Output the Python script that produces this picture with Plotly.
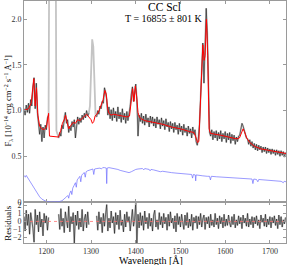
import plotly.graph_objects as go

# ---------------- data ----------------
WL_START = 1150.0
WL_STEP = 2.5

obs_flux = [
    1.02, 0.95, 1.06, 0.98, 1.08, 0.97, 1.12, 1.05, 1.25, 1.36, 1.02, 1.30, 0.98, 0.88, 0.74, 0.85,
    0.66, 0.82, 0.70, 0.84, 0.79, 0.92, 0.95,
    4.0, 4.0, 4.0, 4.0, 4.0, 4.0, 0.78, 0.74,
    0.70, 0.76, 0.72, 0.84, 0.80, 0.93, 0.98, 0.86, 0.90, 0.76, 0.83, 0.78, 0.88, 0.82, 0.90, 0.70,
    0.86, 0.93, 0.85, 0.92, 0.87, 0.95, 0.90, 0.97, 0.92, 1.00, 0.94, 0.97,
    1.05, 1.40, 1.78, 1.70, 1.25, 0.95,
    0.93, 1.00, 0.96, 1.05, 1.02, 1.10, 1.08, 1.25, 1.20, 1.12, 0.95, 1.04, 0.91, 1.01, 0.89, 1.03,
    0.92, 0.99, 0.88, 1.04, 0.91, 0.98, 0.87, 1.02, 0.90, 0.97, 0.86, 0.99, 0.89, 0.96, 1.05, 1.18,
    1.26, 1.10, 1.22, 1.29, 1.12, 0.72, 0.95, 0.88, 0.97, 0.86, 0.94, 0.84, 0.96, 0.87, 0.92, 0.82,
    0.94, 0.86, 0.93, 0.83, 0.91, 0.81, 0.93, 0.85, 0.90, 0.80, 0.92, 0.83, 0.89, 0.79, 0.91, 0.82,
    0.87, 0.77, 0.88, 0.80, 0.86, 0.76, 0.87, 0.79, 0.84, 0.74, 0.86, 0.77, 0.83, 0.73, 0.85, 0.76,
    0.81, 0.72, 0.83, 0.75, 0.80, 0.70, 0.82, 0.74, 0.79, 0.66, 0.62, 0.70, 0.85, 1.20, 1.62, 1.74,
    1.30, 1.70, 2.12, 1.85, 1.10, 0.76, 0.72, 0.79, 0.68, 0.77, 0.70, 0.78, 0.67, 0.76, 0.69, 0.78,
    0.66, 0.75, 0.69, 0.77, 0.65, 0.75, 0.68, 0.76, 0.64, 0.74, 0.67, 0.73, 0.63, 0.71, 0.66, 0.72,
    0.73, 0.81, 0.86, 0.83, 0.78, 0.75, 0.70, 0.69, 0.63, 0.68, 0.61, 0.66, 0.59, 0.64, 0.57, 0.63,
    0.56, 0.62, 0.57, 0.61, 0.54, 0.60, 0.55, 0.60, 0.53, 0.59, 0.54, 0.58, 0.52, 0.58, 0.53, 0.57,
    0.51, 0.57, 0.52, 0.56, 0.50, 0.56, 0.51, 0.55, 0.49, 0.54,
]

# wavelength intervals masked out of the fit (drawn grey only)
mask_ranges = [(1206.0, 1226.0), (1296.0, 1311.0)]

model_wl = [1150, 1160, 1166, 1170, 1172, 1175, 1178, 1181, 1185, 1190, 1195, 1200, 1203, 1205,
            1207, 1227, 1232, 1236, 1240, 1243, 1246, 1250, 1255, 1260, 1265, 1270, 1275, 1280,
            1285, 1290, 1295, 1300, 1303, 1306, 1309, 1313, 1318, 1323, 1327, 1331, 1334, 1337,
            1340, 1345, 1350, 1360, 1370, 1380, 1386, 1390, 1393, 1396, 1399, 1402, 1405, 1408,
            1412, 1420, 1440, 1460, 1480, 1500, 1520, 1530, 1535, 1538, 1541, 1544, 1547, 1550,
            1553, 1555, 1558, 1561, 1564, 1567, 1590, 1610, 1625, 1632, 1637, 1640, 1643, 1648,
            1655, 1665, 1680, 1700, 1720, 1736]
model_flux = [1.00, 1.02, 1.08, 1.30, 1.35, 1.05, 1.25, 0.95, 0.83, 0.80, 0.79, 0.82, 0.90, 0.97,
              0.72, 0.71, 0.78, 0.86, 0.90, 0.95, 0.88, 0.80, 0.84, 0.87, 0.86, 0.90, 0.89, 0.91,
              0.93, 0.96, 0.93, 0.90, 0.86, 0.88, 0.94, 0.96, 1.00, 1.06, 1.12, 1.22, 1.18, 1.02,
              0.97, 0.95, 0.96, 0.95, 0.94, 0.93, 0.94, 1.10, 1.24, 1.10, 1.27, 1.15, 0.98, 0.93,
              0.91, 0.89, 0.87, 0.85, 0.82, 0.80, 0.77, 0.76, 0.70, 0.65, 0.66, 1.00, 1.50, 1.72,
              1.55, 1.60, 2.00, 1.60, 0.80, 0.75, 0.73, 0.71, 0.69, 0.70, 0.76, 0.80, 0.77, 0.70,
              0.65, 0.61, 0.58, 0.56, 0.54, 0.53]

wd_wl = [1150, 1153, 1155, 1160, 1165, 1170, 1175, 1180, 1185, 1190, 1195, 1200, 1210, 1220, 1230,
         1235, 1240, 1245, 1248, 1250, 1252, 1255, 1257, 1259, 1262, 1265, 1267, 1269, 1272, 1275,
         1277, 1279, 1282, 1285, 1287, 1289, 1292, 1295, 1300, 1304, 1306, 1308, 1313, 1317, 1320,
         1323, 1326, 1330, 1334, 1335, 1336, 1340, 1345, 1350, 1355, 1360, 1365, 1370, 1375, 1380,
         1385, 1390, 1395, 1400, 1405, 1410, 1415, 1418, 1420, 1425, 1430, 1432, 1434, 1440, 1445,
         1450, 1455, 1460, 1470, 1480, 1490, 1500, 1510, 1520, 1525, 1527, 1529, 1533, 1534, 1535,
         1540, 1550, 1560, 1565, 1567, 1569, 1580, 1600, 1620, 1640, 1655, 1660, 1662, 1664, 1670,
         1673, 1675, 1690, 1710, 1725, 1730, 1732, 1736]
wd_flux = [0.29, 0.27, 0.29, 0.25, 0.21, 0.17, 0.13, 0.09, 0.055, 0.03, 0.012, 0.004, 0.0, 0.0, 0.004,
           0.012, 0.03, 0.055, 0.07, 0.04, 0.09, 0.12, 0.08, 0.15, 0.18, 0.21, 0.16, 0.24, 0.26, 0.28,
           0.22, 0.29, 0.31, 0.32, 0.27, 0.33, 0.34, 0.345, 0.35, 0.36, 0.30, 0.36, 0.365, 0.37, 0.37,
           0.36, 0.375, 0.375, 0.37, 0.20, 0.37, 0.375, 0.37, 0.37, 0.36, 0.355, 0.345, 0.34, 0.33, 0.325,
           0.32, 0.33, 0.345, 0.355, 0.36, 0.36, 0.365, 0.35, 0.365, 0.36, 0.355, 0.34, 0.355, 0.35, 0.345,
           0.34, 0.33, 0.335, 0.325, 0.32, 0.315, 0.31, 0.305, 0.30, 0.30, 0.26, 0.30, 0.295, 0.23, 0.295,
           0.29, 0.285, 0.28, 0.28, 0.24, 0.28, 0.275, 0.27, 0.265, 0.26, 0.25, 0.25, 0.20, 0.25, 0.245,
           0.22, 0.245, 0.24, 0.23, 0.225, 0.21, 0.225, 0.22]

residuals = [
    0.6, -1.2, 1.4, -0.5, 0.9, -1.6, 1.1, 0.2, -0.9, -2.6, 1.5, -0.4, 0.8, -1.3, 1.2, -0.7,
    0.3, -1.8, 1.0, -0.2, 0.7, -1.1, 0.5,
    None, None, None, None, None, None, None, None,
    0.9, -1.0, 1.6, -0.6, 0.4, -1.4, 1.2, 0.1, -0.8, 1.9, -1.3, 0.6, -0.3, 1.1, -2.7, 0.8,
    -0.5, 1.3, -1.0, 0.4, -0.7, 1.5, -1.2, 0.3, 0.9, -0.8, 1.2, -0.4,
    None, None, None, None, None, None,
    0.7, -1.1, 1.2, -0.3, 0.5, -1.4, 1.0, -0.6, 0.9, 2.1,
    -1.2, 0.4, -0.8, 1.3, -0.2, 0.6, -1.5, 1.1, -0.4, 0.8,
    -1.0, 1.4, -0.5, 0.2, -1.3, 0.9, -0.7, 1.2, -0.1, 0.6,
    -1.2, 0.8, 1.5, -0.6, 0.3, 2.4, -2.7, 0.9, -0.8, 1.1,
    -0.5, 0.7, -1.1, 1.3, -0.3, 0.5, -0.9, 1.0, -0.6, 0.4,
    -1.2, 0.8, 1.4, -0.7, 0.2, -1.0, 1.1, -0.4, 0.6, -0.8,
    1.0, -0.3, 0.5, -1.1, 0.9, -0.6, 1.2, -0.2, 0.4, -0.9,
    0.7, -1.3, 1.0, -0.4, 0.6, -0.7, 0.9, -0.1, -1.0, 0.8,
    -0.5, 1.1, -0.8, 0.3, -0.6, 0.9, -1.1, 0.5, -0.2, 0.7,
    -0.9, 0.6, -0.4, 1.0, -0.7, 0.3, 0.8, -1.0, 0.5, -0.3,
    0.6, -0.8, 0.9, -0.5, 0.2, -0.7, 1.0, -0.4, 0.4, -0.9,
    0.7, -0.3, 0.5, -0.8, 0.9, -0.6, 0.3, -0.5, 0.8, -0.2,
    -0.7, 0.6, -0.4, 0.9, -0.8, 0.2, -0.5, 0.7, -0.3, 0.5,
    -0.9, 0.8, -0.2, 0.4, -0.6, 1.0, -0.7, 0.3, -0.4, 0.6,
    -0.8, 0.5, -0.3, 0.7, -0.5, 0.2, -0.9, 0.8, -0.1, 0.4,
    -0.6, 0.9, -0.7, 0.3, -0.4, 0.6, -0.8, 0.5, -0.2, 0.7,
    -0.5, 0.3, -0.9, 0.8, -0.4, 0.6, -0.7, 0.2, -0.3, 0.5,
]

flux_ticks = [0, 0.5, 1.0, 1.5, 2.0]
flux_ticktext = ["0", "0.5", "1.0", "1.5", "2.0"]
resid_ticks = [-2, -1, 0, 1, 2]
wl_ticks = [1200, 1300, 1400, 1500, 1600, 1700]

star_name = "CC Scl"
temp_label = "T = 16855 ± 801 K"

# ---------------- figure ----------------
wl = [WL_START + WL_STEP * i for i in range(len(obs_flux))]
obs_black = [None if any(a <= w <= b for a, b in mask_ranges) else f for w, f in zip(wl, obs_flux)]

FONT = "Liberation Serif, Times New Roman, DejaVu Serif, serif"
AX = "#9a9a9a"

fig = go.Figure()
fig.add_trace(go.Scatter(x=wl, y=obs_flux, mode="lines", line=dict(color="#c4c4c4", width=1.8),
                         xaxis="x2", yaxis="y2", hoverinfo="skip"))
fig.add_trace(go.Scatter(x=wl, y=obs_black, mode="lines", line=dict(color="black", width=0.5),
                         xaxis="x2", yaxis="y2", connectgaps=False))
fig.add_trace(go.Scatter(x=model_wl, y=model_flux, mode="lines", line=dict(color="#ff0000", width=1.0),
                         xaxis="x2", yaxis="y2"))
fig.add_trace(go.Scatter(x=wd_wl, y=wd_flux, mode="lines", line=dict(color="#6f6fff", width=0.7),
                         xaxis="x2", yaxis="y2"))

fig.add_trace(go.Scatter(x=wl, y=residuals, mode="lines", line=dict(color="#c4c4c4", width=1.8),
                         xaxis="x", yaxis="y"))
fig.add_trace(go.Scatter(x=wl, y=residuals, mode="lines", line=dict(color="black", width=0.5),
                         xaxis="x", yaxis="y"))
fig.add_trace(go.Scatter(x=[1150, 1736], y=[0, 0], mode="lines",
                         line=dict(color="#ff7070", width=0.8, dash="dot"), xaxis="x", yaxis="y"))

axis_common = dict(showline=True, linecolor=AX, linewidth=1, mirror="ticks", ticks="inside",
                   ticklen=3, tickcolor=AX, showgrid=False, zeroline=False,
                   tickfont=dict(family=FONT, size=8, color="#333"))

fig.update_layout(
    width=287, height=265,
    margin=dict(l=24, r=1, t=1, b=22),
    paper_bgcolor="white", plot_bgcolor="white",
    showlegend=False,
    font=dict(family=FONT, color="black"),
    xaxis=dict(domain=[0, 1], range=[1150, 1736], anchor="y", tickvals=wl_ticks, **axis_common),
    yaxis=dict(domain=[0, 0.17], range=[-2.69, 2.44], anchor="x", tickvals=resid_ticks, **axis_common),
    xaxis2=dict(domain=[0, 1], range=[1150, 1736], anchor="y2", matches="x", tickvals=wl_ticks,
                showticklabels=False, **axis_common),
    yaxis2=dict(domain=[0.17, 1], range=[0, 2.2], anchor="x2", tickvals=flux_ticks,
                ticktext=flux_ticktext, **axis_common),
)

ann = [
    dict(text=star_name, x=0.536, y=0.975, size=11.5),
    dict(text=temp_label, x=0.536, y=0.926, size=10),
    dict(text="F<sub>λ</sub> [10<sup>−14</sup> erg cm<sup>−2</sup> s<sup>−1</sup> Å<sup>−1</sup>]",
         x=-0.061, y=0.585, textangle=-90, size=8.5),
    dict(text="Residuals", x=-0.061, y=0.08, textangle=-90, size=9),
    dict(text="Wavelength [Å]", x=0.485, y=-0.074, size=10),
]
for a in ann:
    size = a.pop("size")
    fig.add_annotation(xref="paper", yref="paper", showarrow=False, xanchor="center",
                       yanchor="middle", font=dict(family=FONT, size=size, color="black"), **a)

fig.write_html("out.html", config={"displayModeBar": False},
               post_script="document.body.style.margin='0';document.body.style.padding='0';")
